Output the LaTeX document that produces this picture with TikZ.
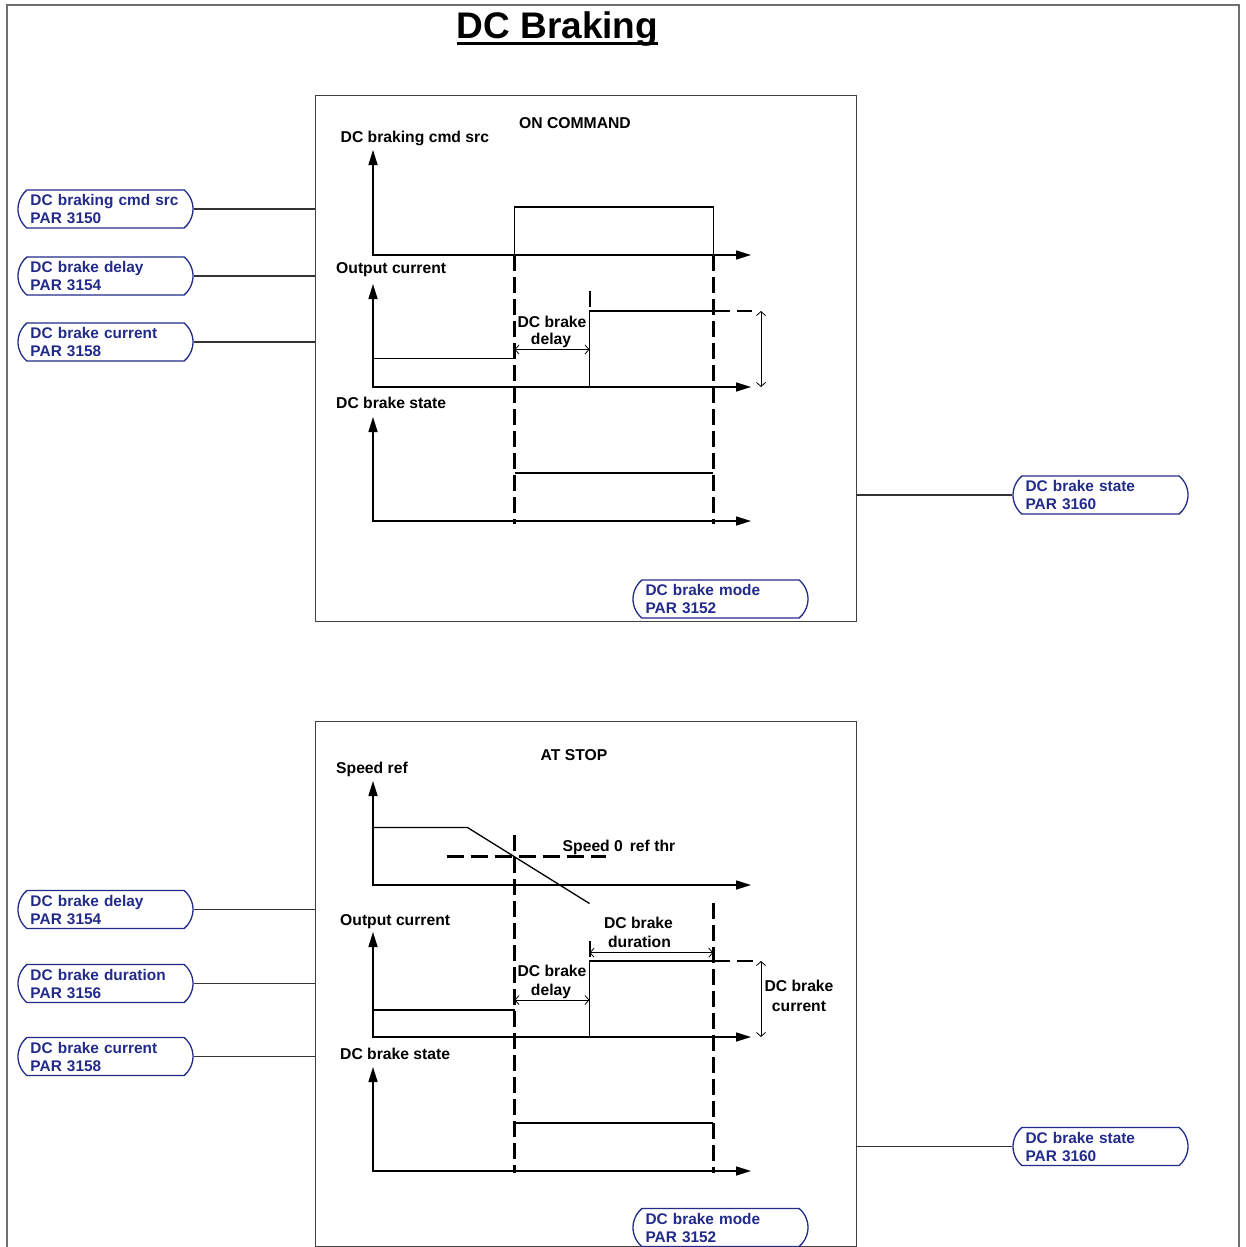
\documentclass[tikz,border=0pt]{standalone}
\usepackage{fontspec}
\setmainfont{Liberation Sans}
\usetikzlibrary{arrows.meta,shapes.misc}
\definecolor{pblue}{RGB}{34,42,138}
\definecolor{frame}{RGB}{110,110,110}
\newcommand\labf{\fontsize{15.7}{18}\selectfont\bfseries}
\newcommand\boxf{\fontsize{15.4}{18}\selectfont\bfseries}
\begin{document}
\begin{tikzpicture}[x=1pt,y=-1pt,
  lbl/.style={font=\labf, inner sep=0pt, anchor=base west},
  lblc/.style={font=\labf, inner sep=0pt, anchor=base},
  axis/.style={line width=1.6pt, {Triangle[length=15pt,width=9pt]}-{Triangle[length=15pt,width=9pt]}},
  sig/.style={line width=1.3pt},
  vdash/.style={line width=2.8pt, dash pattern=on 16pt off 6pt},
  hdash/.style={line width=2.8pt, dash pattern=on 17pt off 7pt},
  dim/.style={line width=0.8pt, {Straight Barb[length=4pt,width=9pt]}-{Straight Barb[length=4pt,width=9pt]}},
  pbox/.style={rounded rectangle, rounded rectangle arc length=100, draw=pblue, line width=1.3pt, text=pblue, font=\boxf, minimum width=175pt, minimum height=38pt, text width=150pt, align=left, inner sep=0pt, fill=white},
  panel/.style={draw=black!75, line width=1pt, minimum width=541pt, inner sep=0pt, outer sep=0pt},
  wire/.style={line width=1.5pt, draw=black!80}
]
\useasboundingbox (0,0) rectangle (1246,1247);
\draw[frame, line width=2pt] (7,5) rectangle (1239,1260);

% title
\node[font=\fontsize{37}{40}\selectfont\bfseries, inner sep=0pt, anchor=base] (title) at (557.5,38) {DC Braking};
\draw[line width=2.8pt] ([yshift=-5.5pt]title.base west) -- ([yshift=-5.5pt]title.base east);

% panels
\node[panel, minimum height=526pt] (P1) at (585.5,358) {};
\node[panel, minimum height=525pt] (P2) at (585.5,983.5) {};

% ===== ON COMMAND =====
\node[lblc] (t1) at (575,128.5) {ON COMMAND};
\node[lbl] (a1) at (340.5,142.5) {DC braking cmd src};
\draw[axis] (373,150) -- (373,255) -- (751,255);
\draw[sig] (514.5,255) -- (514.5,207) -- (713.3,207) -- (713.3,255);

\node[lbl] (a2) at (336,273.5) {Output current};
\draw[axis] (373,284) -- (373,387) -- (751,387);
\draw[sig] (373,358.5) -- (514.5,358.5);
\draw[sig] (514.5,387) -- (589.5,387) -- (589.5,311) -- (713.3,311);
\draw[line width=2.8pt] (590,290.5) -- (590,306.5);
\draw[hdash] (713.3,311) -- (752,311);
\draw[dim] (514.5,349.5) -- (589.5,349.5);
\node[lblc] (d1a) at (552,327.5) {DC brake};
\node[lblc] (d1b) at (551,344.5) {delay};
\draw[dim] (761,311) -- (761,387);

\node[lbl] (a3) at (336,408.5) {DC brake state};
\draw[axis] (373,417) -- (373,521) -- (751,521);
\draw[sig] (514.5,473) -- (713.3,473);

\draw[vdash] (514.5,255) -- (514.5,524);
\draw[vdash] (713.3,255) -- (713.3,524);

% parameter boxes top
\node[pbox] (L1) at (105.5,209) {DC braking cmd src\\PAR 3150};
\node[pbox] (L2) at (105.5,276) {DC brake delay\\PAR 3154};
\node[pbox] (L3) at (105.5,342) {DC brake current\\PAR 3158};
\node[pbox] (R1) at (1100.5,495) {DC brake state\\PAR 3160};
\node[pbox] (M1) at (720.5,599) {DC brake mode\\PAR 3152};
\draw[wire] (L1.east) -- (L1.east -| P1.west);
\draw[wire] (L2.east) -- (L2.east -| P1.west);
\draw[wire] (L3.east) -- (L3.east -| P1.west);
\draw[wire] (R1.west -| P1.east) -- (R1.west);

% ===== AT STOP =====
\node[lblc] (t2) at (574,760) {AT STOP};
\node[lbl] (b1) at (336,773.5) {Speed ref};
\draw[axis] (373,781) -- (373,885) -- (751,885);
\draw[sig] (373,827.5) -- (467.5,827.5) -- (589.5,903.5);
\draw[hdash] (446.5,856.7) -- (606,856.7);
\node[lbl] (b1t) at (562.5,851.5) {Speed 0\, ref thr};

\node[lbl] (b2) at (340,925.5) {Output current};
\draw[axis] (373,932) -- (373,1037) -- (751,1037);
\draw[sig] (373,1010) -- (514.5,1010);
\draw[sig] (514.5,1037) -- (589.5,1037) -- (589.5,961) -- (713.3,961);
\draw[line width=2.8pt] (590,941) -- (590,957);
\draw[hdash] (713.3,961) -- (752.5,961);
\draw[dim] (589.5,952.7) -- (713.3,952.7);
\node[lblc] (e1a) at (638.5,928.5) {DC brake};
\node[lblc] (e1b) at (639.5,947) {duration};
\draw[dim] (514.5,1000) -- (589.5,1000);
\node[lblc] (e2a) at (552,976.5) {DC brake};
\node[lblc] (e2b) at (551,995) {delay};
\draw[dim] (761,961) -- (761,1037);
\node[lblc] (e3a) at (799,991) {DC brake};
\node[lblc] (e3b) at (799,1011) {current};

\node[lbl] (b3) at (340,1059.5) {DC brake state};
\draw[axis] (373,1067) -- (373,1171) -- (751,1171);
\draw[sig] (514.5,1123) -- (713.3,1123);

\draw[vdash] (514.5,835) -- (514.5,1173);
\draw[vdash] (713.3,903) -- (713.3,1173);

% parameter boxes bottom
\node[pbox] (L4) at (105.5,909.5) {DC brake delay\\PAR 3154};
\node[pbox] (L5) at (105.5,983.5) {DC brake duration\\PAR 3156};
\node[pbox] (L6) at (105.5,1056.5) {DC brake current\\PAR 3158};
\node[pbox] (R2) at (1100.5,1146.5) {DC brake state\\PAR 3160};
\node[pbox] (M2) at (720.5,1227.5) {DC brake mode\\PAR 3152};
\draw[wire] (L4.east) -- (L4.east -| P2.west);
\draw[wire] (L5.east) -- (L5.east -| P2.west);
\draw[wire] (L6.east) -- (L6.east -| P2.west);
\draw[wire] (R2.west -| P2.east) -- (R2.west);
\end{tikzpicture}
\end{document}
